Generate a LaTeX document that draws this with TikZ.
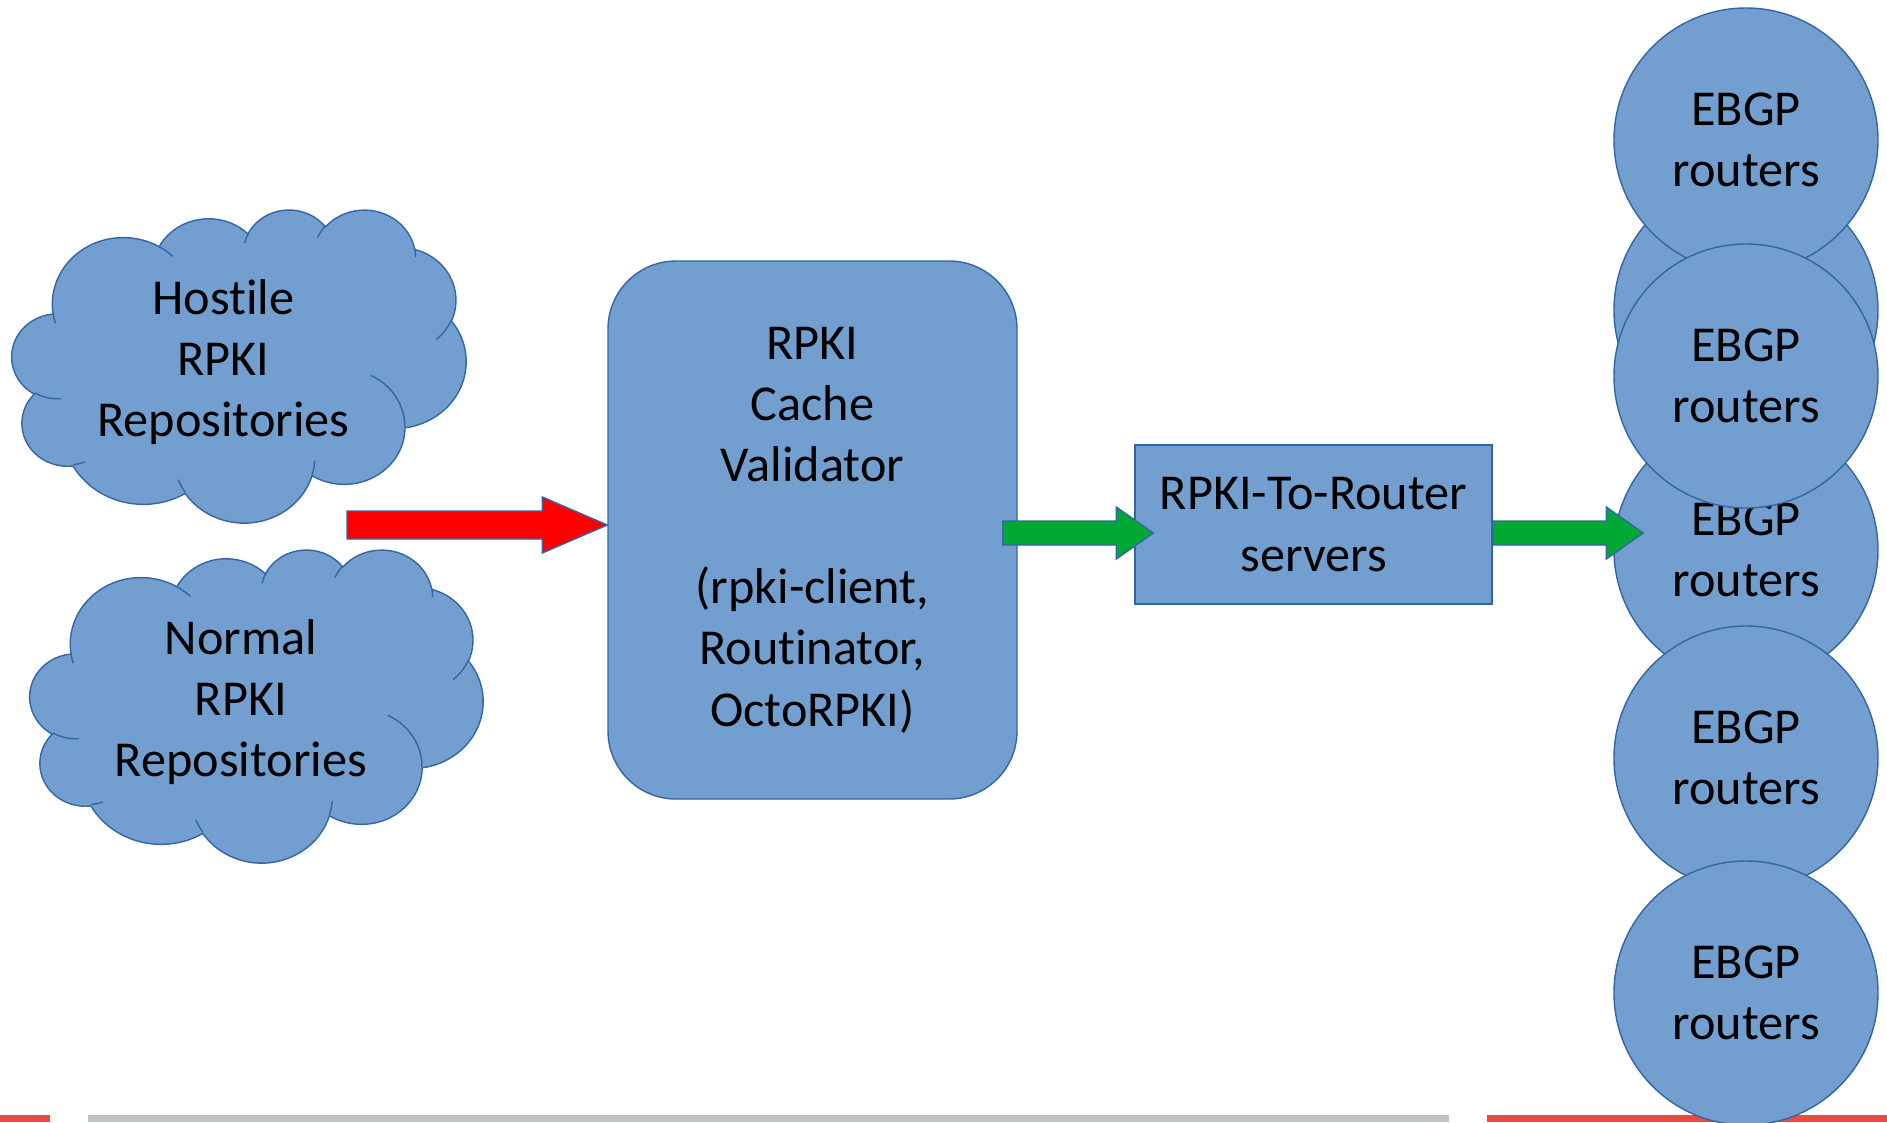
\documentclass[tikz,border=0pt]{standalone}
\usepackage{fontspec}
\setmainfont{Carlito}[Ligatures=NoCommon]
\usetikzlibrary{calc}
\definecolor{lofill}{HTML}{729FCF}
\definecolor{loline}{HTML}{3465A4}
\definecolor{arrred}{HTML}{FF0000}
\definecolor{arrgreen}{HTML}{00A933}
\definecolor{barred}{HTML}{E74C3C}
\definecolor{bargray}{HTML}{BDC3C7}

\begin{document}
\begin{tikzpicture}[every node/.style={font=\fontsize{14.3}{17.4}\selectfont,align=center,inner sep=0pt},
 sh/.style={fill=lofill,draw=loline,line width=.4pt},
 rt/.style={sh,circle,minimum size=2.64cm},
 pool/.style={sh,rounded corners=.68cm,minimum width=4.09cm,minimum height=5.38cm},
 srv/.style={sh,minimum width=3.57cm,minimum height=1.59cm}]
% elliptic arc, angles measured as seen (not parametric)
\newcommand{\oarc}[4]{\pgfextra{%
 \pgfmathsetmacro\oaS{atan2(#1*sin(#3),#2*cos(#3))}\global\let\oaS\oaS
 \pgfmathsetmacro\oaD{atan2(#1*sin(#3+#4),#2*cos(#3+#4))-\oaS}%
 \pgfmathsetmacro\oaD{\oaD+360*round((#4-\oaD)/360)}\global\let\oaD\oaD}%
 arc[start angle=\oaS,delta angle=\oaD,x radius=#1,y radius=#2]}
\newcommand{\RepoCloud}[4]{%
 \begin{scope}[shift={#2},xscale=#3/43.2,yscale=-3.13/43.2]
 \filldraw[sh] (3.900,14.370) \oarc{6.753}{9.190}{-190.4875}{123.7805}
  \oarc{5.333}{7.267}{-144.1024}{89.9452} \oarc{4.365}{5.945}{-145.8079}{99.7230}
  \oarc{4.857}{6.595}{-130.9861}{117.2417} \oarc{5.333}{7.273}{-78.7089}{109.0269}
  \oarc{6.775}{9.220}{-46.2673}{130.2690} \oarc{5.785}{7.867}{0.6250}{114.0333}
  \oarc{6.752}{9.215}{22.4516}{115.1726} \oarc{7.720}{10.543}{66.2426}{75.7110}
  \oarc{4.360}{5.918}{-274.9421}{146.7356} \oarc{4.345}{5.945}{-246.8285}{152.5189} -- cycle;
 \draw[draw=loline,line width=.4pt]
  (4.693,26.177) \oarc{4.345}{5.945}{86.7420}{26.4295}
  (6.928,34.899) \oarc{4.360}{5.918}{73.6105}{11.4475}
  (16.478,39.090) \oarc{6.752}{9.215}{137.6242}{14.0811}
  (28.827,34.751) \oarc{6.752}{9.215}{6.4533}{15.9984}
  (34.129,22.954) \oarc{5.785}{7.867}{-70.2924}{70.9174}
  (41.798,15.354) \oarc{5.333}{7.273}{30.3180}{27.7515}
  (38.324,5.426) \oarc{4.857}{6.595}{-13.7443}{14.8589}
  (29.078,3.952) \oarc{4.857}{6.595}{-149.1815}{18.1954}
  (22.141,4.720) \oarc{4.365}{5.945}{-163.4943}{17.6864}
  (14.000,5.192) \oarc{6.753}{9.190}{-66.7070}{12.3194}
  (4.127,15.789) \oarc{6.753}{9.190}{157.6544}{11.8582};
 \node (#1) at (20.1,21.1) {#4};
 \end{scope}}
\newcommand{\BlockArr}[6]{\filldraw[fill=#6,draw=loline,line width=.4pt] let \p1=(#1),\p2=(#2) in
 (\x1,\y1+#3) -- (\x2-#5,\y1+#3) -- (\x2-#5,\y1+#4) -- (\x2,\y1) -- (\x2-#5,\y1-#4) -- (\x2-#5,\y1-#3) -- (\x1,\y1-#3) -- cycle;}
\useasboundingbox (0,0) rectangle (18.87,-11.22);
% footer bars
\fill[barred] (0,-11.15) rectangle (.50,-11.22);
\fill[bargray] (.88,-11.15) rectangle (14.49,-11.22);
\fill[barred] (14.87,-11.15) rectangle (18.87,-11.22);
% repositories
\RepoCloud{hostile}{(.12,-2.09)}{4.54}{Hostile\\RPKI\\Repositories}
\RepoCloud{normal}{(.30,-5.49)}{4.53}{Normal\\RPKI\\Repositories}
% validator and RTR
\node[pool] (cache) at (8.125,-5.30) {RPKI\\Cache\\Validator\\ \\(rpki-client,\\Routinator,\\OctoRPKI)};
\node[srv] (r2r) at (13.135,-5.245) {RPKI-To-Router\\servers};
% routers
\node[rt] (rt3) at (17.46,-5.50) {EBGP\\routers};
\node[rt] (rtH) at (17.46,-3.10) {};
\node[rt] (rt1) at (17.46,-1.40) {EBGP\\routers};
\node[rt] (rt2) at (17.46,-3.76) {EBGP\\routers};
\node[rt] (rt4) at (17.46,-7.58) {EBGP\\routers};
\node[rt] (rt5) at (17.46,-9.93) {EBGP\\routers};
% arrows
\coordinate (red-s) at (3.47,-5.25);
\coordinate (g1s) at ($(cache.east)+(-.15,-.03)$);
\coordinate (g1t) at ($(r2r.west)+(.19,0)$);
\coordinate (g2s) at ($(r2r.east)+(0,-.085)$);
\coordinate (g2t) at ($(rt3.west)+(.30,0)$);
\BlockArr{red-s}{cache.west}{.14cm}{.28cm}{.65cm}{arrred}
\BlockArr{g1s}{g1t}{.12cm}{.26cm}{.37cm}{arrgreen}
\BlockArr{g2s}{g2t}{.12cm}{.26cm}{.37cm}{arrgreen}
\end{tikzpicture}
\end{document}
